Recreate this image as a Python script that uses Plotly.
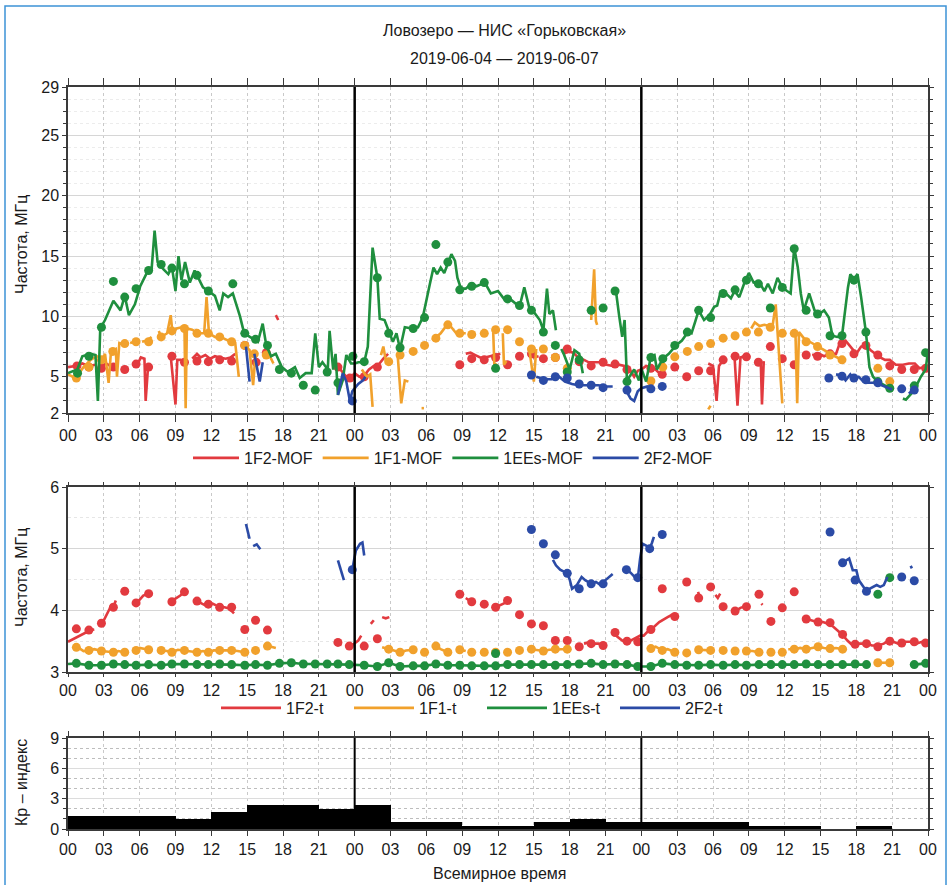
import plotly.graph_objects as go

# ---------------- data (hours from 2019-06-04 00 UT; None = gap) ----------------
TICK_HOURS = list(range(0, 73, 3))
TICK_TEXT = ["00", "03", "06", "09", "12", "15", "18", "21"] * 3 + ["00"]
DAY_BOUNDARIES = [24, 48]

# --- top panel: MOF ---
F2_MOF_LINE_H = [0,0.6,1.2,1.7,2.3,None,2.7,3.2,3.7,4.1,None,5.9,6.1,6.4,6.5,6.7,None,8.6,9.0,9.15,9.5,None,
                 10.4,10.8,11.1,11.5,11.9,12.3,12.7,13.2,13.6,14.0,None,14.6,14.9,None,15.5,15.8,None,16.4,16.8,None,
                 17.4,17.6,None,22.3,22.8,23.3,23.8,24.0,24.4,24.8,25.2,25.6,26.0,26.4,26.8,None,
                 33.3,33.7,34.1,34.5,34.9,35.4,35.8,36.2,None,38.6,39.0,39.4,None,
                 41.5,41.9,42.3,42.7,43.2,43.6,44.1,44.6,45.1,45.6,46.1,46.6,47.1,47.4,47.7,48.0,48.4,48.8,49.2,49.6,None,
                 53.6,54.0,54.3,54.5,54.8,None,55.8,56.05,56.3,56.6,None,58.0,58.1,58.25,None,
                 62.3,62.9,63.3,63.8,64.3,64.6,65.1,65.6,66.0,66.4,66.8,67.2,67.6,68.0,68.4,68.8,69.3,69.9,70.4,70.9,71.3,71.8,72.0]
F2_MOF_LINE_V = [5.8,5.9,6.1,5.9,6.0,None,5.8,6.1,5.8,5.9,None,6.2,6.6,6.5,3.0,5.8,None,6.7,2.7,6.4,6.4,None,
                 6.5,6.9,6.6,6.8,6.5,6.7,6.6,6.5,6.6,6.9,None,7.6,7.3,None,6.3,6.1,None,6.8,7.0,None,
                 10.1,9.7,None,5.9,5.6,5.0,5.1,5.3,5.0,5.1,5.6,5.9,6.0,6.5,6.9,None,
                 6.9,7.0,6.8,6.6,6.6,6.7,6.8,6.9,None,6.8,6.6,6.7,None,
                 6.9,7.1,7.0,6.6,6.4,6.2,6.2,6.2,6.0,5.9,6.0,5.9,5.5,5.0,5.5,5.6,5.9,5.8,5.6,5.2,None,
                 6.1,5.9,3.0,5.9,6.3,None,6.7,2.6,6.6,6.7,None,6.2,2.7,6.3,None,
                 6.8,6.9,6.7,6.9,6.9,7.75,8.0,7.4,6.9,7.5,7.6,7.2,6.9,6.6,6.4,6.4,6.0,6.0,6.1,6.1,5.7,5.8,5.9]
F2_MOF_DOT_H = [0.75,1.75,2.8,3.8,4.75,5.7,6.75,8.7,9.75,10.8,11.75,12.7,13.7,14.8,15.75,16.6,22.6,23.6,
                24.8,25.9,32.8,33.8,34.85,35.8,36.8,37.8,38.8,39.8,40.8,41.8,42.8,43.8,44.8,45.8,46.8,
                48.8,49.75,50.8,51.8,52.8,53.8,54.85,55.85,56.8,57.8,58.8,59.8,60.8,61.8,62.75,63.8,64.8,65.8,66.8,67.8,68.8,69.8,70.85,71.8]
F2_MOF_DOT_V = [5.9,5.8,5.7,5.8,5.6,6.05,5.8,6.7,6.2,6.3,6.25,6.4,6.3,7.6,6.2,7.0,5.8,4.9,
                5.0,5.8,6.0,6.5,6.4,6.6,6.0,6.7,6.9,6.5,6.6,7.3,6.25,5.9,6.2,6.05,5.6,
                5.7,5.2,5.8,5.0,5.5,5.5,6.4,6.7,6.65,6.2,7.5,6.5,6.0,6.8,6.7,6.9,7.75,6.9,7.6,6.8,5.9,5.6,5.6,5.7]

F1_MOF_LINE_H = [0,0.6,1.3,1.9,2.4,2.9,3.1,3.4,3.6,4.0,4.1,4.3,4.6,None,5.2,5.6,None,6.2,6.6,7.0,None,
                 7.6,7.8,8.3,8.6,8.75,9.1,9.5,9.75,9.85,9.95,10.4,10.9,11.4,11.6,11.8,12.3,13.0,13.6,14.0,14.3,None,
                 14.8,15.2,15.5,15.7,None,16.4,16.8,17.2,None,24.6,25.0,25.3,25.5,None,26.2,26.4,26.6,27.0,None,
                 27.6,27.9,28.2,28.5,None,29.6,29.8,None,30.5,31.2,31.8,32.1,32.5,33.3,None,35.6,35.7,35.9,None,
                 36.4,36.5,36.7,None,38.6,39.0,39.2,None,43.8,44.05,44.2,44.3,None,53.6,53.8,None,
                 57.2,57.5,57.9,58.3,58.7,59.0,59.25,59.8,None,60.9,61.05,61.2,61.6,62.1,62.6,63.2,63.7,64.2,64.8]
F1_MOF_LINE_V = [5.2,4.9,5.8,6.4,6.7,6.5,6.9,4.5,7.1,7.3,5.0,7.8,7.7,None,7.8,7.9,None,7.9,8.0,8.3,None,
                 8.8,8.3,8.6,10.1,8.6,9.0,9.1,9.0,2.4,9.0,8.9,8.6,8.6,11.6,8.6,8.3,8.2,7.9,7.8,5.0,None,
                 7.6,7.2,4.3,6.9,None,6.8,6.9,6.1,None,5.6,5.0,5.2,2.5,None,6.8,7.5,6.4,6.3,None,
                 6.8,2.8,4.7,4.6,None,2.4,2.4,None,8.0,8.6,9.4,9.1,8.6,8.6,None,8.7,5.8,6.1,None,
                 8.6,6.0,6.3,None,7.4,4.6,7.3,None,9.7,13.9,9.6,9.3,None,2.3,2.6,None,
                 9.0,9.5,9.2,9.3,9.2,9.3,11.0,2.8,None,8.8,2.8,8.7,8.2,7.9,7.6,7.3,7.0,6.7,6.4]
F1_MOF_DOT_H = [0.7,1.75,2.8,3.75,4.75,5.7,6.75,7.8,8.7,9.75,10.8,11.75,12.7,13.7,14.8,15.6,16.6,
                26.85,27.8,28.9,29.85,30.8,31.8,32.8,33.8,34.85,35.8,36.8,37.8,38.8,39.8,40.8,41.8,
                48.8,49.8,50.8,51.85,52.8,53.8,54.85,55.85,56.8,57.8,58.8,59.8,60.8,61.8,62.75,63.8,64.8,67.8,68.8]
F1_MOF_DOT_V = [4.9,5.8,6.4,7.1,7.75,7.9,7.9,8.3,8.8,9.0,8.6,8.6,8.3,7.9,7.6,6.9,6.8,
                6.25,6.8,7.1,7.6,8.2,9.3,8.6,8.5,8.6,8.9,8.9,7.9,7.3,7.3,6.6,5.7,
                4.65,5.8,6.65,7.1,7.5,7.75,8.2,8.4,8.7,8.7,9.1,8.6,8.6,7.9,7.5,6.8,6.4,5.7,4.6]

EES_MOF_LINE_H = [0,0.78,1.2,1.9,2.3,2.5,2.7,3.1,3.8,4.4,4.75,5.1,5.6,6.05,6.6,7.0,7.25,7.5,8.0,8.4,8.7,9.0,9.25,9.5,9.8,
                  10.2,10.6,10.9,11.3,11.9,12.3,12.7,13.0,13.4,13.8,14.4,14.75,15.4,15.9,16.3,16.6,17.0,17.4,17.9,18.4,
                  19.0,19.4,19.9,20.4,20.7,21.0,21.3,21.75,21.9,22.2,22.4,22.6,23.0,23.3,23.7,24.0,24.3,24.8,25.1,25.5,
                  25.9,26.1,26.5,26.9,27.2,27.5,27.8,28.2,28.8,29.3,29.7,30.3,30.6,30.9,31.2,31.5,31.8,32.1,32.4,32.6,
                  32.9,33.3,33.75,34.2,34.9,35.4,36.0,36.5,37.0,37.5,37.8,38.2,38.6,38.9,39.5,39.8,40.1,40.3,40.6,40.85,None,
                  41.3,41.5,42.0,42.4,42.8,43.1,None,45.8,45.9,46.15,46.4,46.6,46.8,47.0,47.4,47.8,48.0,48.4,48.8,49.1,
                  49.3,49.8,50.3,50.9,51.4,51.9,52.2,52.55,52.8,53.25,53.7,54.1,54.35,54.6,55.1,55.5,55.8,56.2,56.6,57.0,
                  57.4,57.85,58.3,58.6,59.0,59.4,59.8,60.2,60.5,60.8,61.1,61.35,61.6,62.05,62.5,62.9,63.3,63.7,64.0,64.4,
                  64.8,65.3,65.5,65.8,66.1,66.4,66.8,67.1,67.4,67.8,68.3,68.8,None,69.9,70.15,70.6,71.0,71.4,71.8,72.0]
EES_MOF_LINE_V = [5.3,5.6,6.7,6.9,6.8,3.0,9.0,9.7,11.3,10.5,11.7,10.1,11.0,12.5,13.6,13.9,17.1,14.5,13.9,13.5,14.1,12.1,15.0,13.0,14.5,
                  12.8,13.8,13.2,12.4,12.0,11.7,10.5,11.9,11.6,11.9,10.0,8.6,8.2,7.9,9.4,7.6,6.7,6.9,5.8,5.4,
                  5.8,4.9,5.3,5.3,8.6,5.8,6.2,5.6,8.8,5.6,6.9,3.5,4.7,6.8,6.1,6.1,6.2,6.2,7.5,15.7,
                  13.2,9.8,9.7,8.6,7.9,8.6,7.3,9.1,9.0,9.1,9.9,12.7,14.05,13.5,14.05,13.6,14.3,15.15,14.6,13.2,
                  12.3,12.3,12.7,12.5,12.8,11.9,12.1,11.45,11.45,11.0,10.8,12.4,10.8,10.5,9.7,8.85,12.3,10.2,10.5,8.85,None,
                  7.3,6.9,5.6,7.2,6.9,5.3,None,12.1,11.9,10.0,8.3,9.7,4.6,5.0,5.6,4.7,5.7,4.6,6.7,6.8,
                  5.6,6.5,6.9,7.6,8.0,8.7,8.6,9.7,10.5,9.7,10.1,10.8,10.9,11.9,11.9,11.5,12.1,11.6,12.7,13.6,
                  12.8,12.9,12.1,12.7,11.9,13.2,12.4,12.1,11.9,15.7,14.05,11.9,10.5,11.9,10.5,10.2,10.5,9.9,8.4,8.3,
                  8.4,12.4,13.5,13.1,13.5,11.6,8.7,5.8,5.0,4.6,4.3,4.05,None,3.2,3.1,3.6,4.2,5.0,5.6,7.1]
EES_MOF_DOT_H = [0.8,1.75,2.8,3.8,4.75,5.7,6.75,7.8,8.7,9.75,10.8,11.75,13.8,14.8,15.7,16.7,17.7,18.7,19.7,20.7,21.7,22.6,23.85,
                 24.8,25.9,26.85,27.8,28.9,29.85,30.8,31.8,32.8,33.8,34.85,35.8,36.8,37.8,38.8,39.8,40.8,41.8,42.8,43.8,44.8,45.8,46.8,
                 48.8,49.8,50.8,51.85,52.8,53.8,54.85,55.85,56.8,57.8,58.8,59.8,60.8,61.8,62.75,63.8,64.8,65.8,66.8,67.8,68.8,70.85,71.8]
EES_MOF_DOT_V = [5.3,6.7,9.1,12.9,11.6,12.3,13.8,14.3,14.0,12.7,13.4,12.1,12.7,8.6,8.1,7.6,5.6,5.3,4.3,3.9,5.4,4.5,6.7,
                 6.25,13.2,8.6,7.4,9.0,9.9,15.95,14.5,12.2,12.5,12.8,5.7,11.45,10.9,10.5,8.7,7.6,5.4,6.4,10.5,10.7,12.1,4.6,
                 6.6,6.5,7.6,8.7,10.5,9.9,11.9,12.2,13.0,12.7,10.7,12.4,15.6,10.5,10.2,8.4,8.4,13.0,8.7,4.6,4.05,4.25,7.0]

F2B_MOF_LINE_H = [14.9,15.2,None,15.6,16.05,16.3,None,22.6,23.0,23.3,23.6,23.8,24.0,24.3,24.7,24.9,None,
                  39.2,39.9,40.5,41.0,41.6,42.2,42.7,43.3,43.8,44.4,45.0,45.6,None,46.7,47.1,47.4,47.7,48.0,48.5,48.9,None,
                  64.3,64.8,65.1,65.5,65.8,66.2,66.6,67.0,67.6,68.1,68.7,69.0,None,70.4,71.0]
F2B_MOF_LINE_V = [7.5,4.6,None,6.9,4.6,6.2,None,3.5,5.3,4.6,3.0,3.8,4.05,4.4,4.7,5.0,None,
                  5.0,4.8,4.8,5.1,4.6,4.4,4.3,4.3,4.3,4.3,4.2,4.2,None,3.9,3.2,3.0,3.8,4.05,4.2,4.0,None,
                  5.2,5.1,4.7,5.2,4.8,5.0,4.6,4.5,4.5,4.3,4.05,3.95,None,3.6,4.2]
F2B_MOF_DOT_H = [23.8,38.8,39.8,40.8,41.8,42.8,43.8,44.8,46.8,48.8,49.75,63.7,64.8,65.8,66.8,67.8,69.8,70.85]
F2B_MOF_DOT_V = [3.0,5.15,4.7,5.0,4.9,4.4,4.3,4.1,3.9,4.0,4.2,4.9,5.05,4.9,4.75,4.5,4.0,3.9]

# --- middle panel: minimal frequencies ---
F2_T_LINE_H = [0,0.6,1.3,1.9,2.2,None,2.9,3.3,3.55,3.8,4.0,None,4.75,4.95,None,5.7,5.9,6.3,6.75,None,8.7,9.0,9.4,9.75,None,
               10.8,11.2,11.5,11.75,12.1,12.4,None,12.7,13.1,13.5,13.9,None,16.5,16.7,None,22.4,22.9,None,
               23.55,23.9,24.3,24.55,None,25.35,25.6,None,26.3,26.6,26.9,None,33.3,33.6,33.9,None,35.8,36.2,36.6,None,
               43.2,43.6,44.0,44.4,44.8,None,45.6,46.0,46.4,46.8,47.1,47.5,47.9,48.2,48.65,49.05,49.5,50.2,50.5,50.9,None,
               52.75,52.85,None,54.2,54.4,54.6,None,55.9,56.3,56.6,None,58.05,58.15,None,
               61.5,62.1,62.7,63.2,63.7,64.1,64.4,64.85,65.25,65.7,66.1,66.5,66.9,67.3,67.8,68.3,68.7,69.1,69.5,69.9,70.5,71.0,71.5,72.0]
F2_T_LINE_V = [3.49,3.55,3.62,3.68,3.69,None,3.80,3.95,4.05,4.05,4.16,None,4.31,4.30,None,4.12,4.15,4.24,4.27,None,4.14,4.19,4.24,4.30,None,
               4.15,4.11,4.08,4.10,4.11,4.08,None,4.05,4.05,4.03,3.95,None,3.72,3.62,None,3.46,3.44,None,
               3.42,3.45,3.51,3.59,None,3.78,3.84,None,3.89,3.87,3.89,None,4.20,4.16,4.18,None,4.05,4.08,4.12,None,
               3.46,3.48,3.46,3.46,3.43,None,3.66,3.57,3.51,3.49,3.51,3.55,3.59,3.59,3.68,3.73,3.81,3.89,3.92,3.89,None,
               4.30,4.24,None,4.25,4.20,4.27,None,3.99,4.04,4.06,None,4.11,4.09,None,
               3.88,3.84,3.81,3.81,3.78,3.73,3.68,3.60,3.51,3.43,3.46,3.46,3.46,3.43,3.43,3.46,3.51,3.49,3.46,3.49,3.49,3.46,3.49,3.46]
F2_T_DOT_H = [0.7,1.75,2.8,3.8,4.75,5.7,6.75,8.7,9.75,10.8,11.75,12.7,13.7,14.8,15.7,16.7,22.6,23.55,
              24.8,25.9,32.8,33.8,34.85,35.8,36.8,37.8,38.8,39.8,40.8,41.8,42.8,43.8,44.8,45.8,46.8,47.7,
              48.8,49.75,50.8,51.8,52.8,53.8,54.85,55.85,56.8,57.85,58.85,59.8,60.8,61.8,62.8,63.8,64.85,65.9,66.85,67.8,68.8,69.8,70.85,71.8]
F2_T_DOT_V = [3.70,3.68,3.79,4.05,4.31,4.12,4.27,4.14,4.30,4.15,4.10,4.05,4.05,3.69,3.84,3.68,3.48,3.42,
              3.42,3.54,4.26,4.14,4.10,4.05,4.16,3.93,3.78,3.75,3.51,3.51,3.41,3.46,3.43,3.64,3.50,3.49,
              3.69,4.35,3.90,4.46,4.20,4.38,4.06,3.99,4.06,4.26,3.82,4.04,4.30,3.86,3.81,3.80,3.61,3.45,3.46,3.41,3.50,3.47,3.49,3.47]

F1_T_LINE_H = [0.5,0.7,1.0,1.3,1.75,2.2,2.8,3.2,3.8,4.2,4.75,None,5.4,5.7,6.0,6.4,6.75,None,
               7.6,7.8,8.3,8.7,9.2,9.75,10.3,10.8,11.3,11.75,12.2,12.7,13.2,13.7,14.2,14.8,None,16.4,16.7,17.0,17.4,None,
               26.3,26.85,27.3,27.8,28.3,28.9,None,30.5,30.8,31.2,31.8,None,32.6,32.8,33.3,None,
               38.8,39.3,39.8,40.3,40.8,41.3,41.8,None,48.8,49.2,49.75,50.2,50.8,None,52.8,53.3,53.8,None,
               56.8,57.3,57.85,None,60.3,60.8,61.3,61.8,62.3,62.8,63.3,63.8,64.3,64.85,None,67.8,68.3,68.8]
F1_T_LINE_V = [3.43,3.40,3.38,3.34,3.35,3.37,3.34,3.33,3.32,3.34,3.32,None,3.34,3.35,3.39,3.37,3.36,None,
               3.36,3.35,3.34,3.32,3.36,3.35,3.33,3.32,3.34,3.32,3.35,3.35,3.36,3.35,3.34,3.32,None,3.40,3.42,3.41,3.39,None,
               3.40,3.37,3.34,3.32,3.35,3.36,None,3.42,3.42,3.37,3.32,None,3.37,3.36,3.34,None,
               3.37,3.35,3.34,3.36,3.37,3.37,3.37,None,3.38,3.41,3.35,3.37,3.32,None,3.36,3.35,3.35,None,
               3.34,3.34,3.32,None,3.37,3.37,3.39,3.37,3.39,3.41,3.39,3.38,3.39,3.37,None,3.15,3.15,3.15]
F1_T_DOT_H = [0.7,1.75,2.8,3.8,4.75,5.7,6.75,7.8,8.7,9.75,10.8,11.75,12.7,13.7,14.8,15.7,16.7,
              26.85,27.8,28.9,29.85,30.8,31.8,32.8,33.8,34.85,35.8,36.8,37.8,38.8,39.8,40.8,41.8,
              48.8,49.75,50.8,51.8,52.8,53.8,54.85,55.85,56.8,57.85,58.85,59.8,60.8,61.8,62.8,63.8,64.85,67.8,68.8]
F1_T_DOT_V = [3.40,3.35,3.34,3.32,3.32,3.35,3.36,3.35,3.32,3.35,3.32,3.32,3.35,3.35,3.32,3.35,3.42,
              3.37,3.32,3.36,3.32,3.42,3.32,3.36,3.32,3.32,3.32,3.32,3.35,3.37,3.34,3.37,3.37,
              3.38,3.35,3.32,3.31,3.36,3.35,3.35,3.34,3.34,3.32,3.32,3.32,3.37,3.37,3.41,3.38,3.37,3.15,3.15]

EES_T_LINE_H = [0,0.7,1.75,2.8,3.8,4.75,5.7,6.75,7.8,8.7,9.75,10.8,11.75,12.7,13.7,14.8,15.7,16.7,17.7,18.7,19.7,20.7,21.7,22.6,23.55,
                24.8,25.9,26.85,27.8,28.9,29.85,30.8,31.8,32.8,33.8,34.85,35.8,36.8,37.8,38.8,39.8,40.8,41.8,42.8,43.8,44.8,45.8,46.8,47.7,
                48.8,49.75,50.8,51.8,52.8,53.8,54.85,55.85,56.8,57.85,58.85,59.8,60.8,61.8,62.8,63.8,64.85,65.9,66.85,None,70.5,70.85,71.8,72.0]
EES_T_LINE_V = [3.13,3.14,3.11,3.11,3.13,3.12,3.11,3.12,3.11,3.13,3.13,3.12,3.12,3.13,3.12,3.11,3.12,3.11,3.14,3.15,3.13,3.13,3.13,3.13,3.12,
                3.11,3.09,3.15,3.09,3.10,3.10,3.13,3.11,3.11,3.10,3.10,3.10,3.12,3.12,3.12,3.12,3.11,3.12,3.13,3.14,3.12,3.13,3.12,3.09,
                3.09,3.14,3.12,3.11,3.11,3.12,3.11,3.12,3.11,3.12,3.12,3.12,3.12,3.13,3.12,3.12,3.12,3.13,3.12,None,3.13,3.12,3.14,3.14]
EES_T_DOT_H = [0.7,1.75,2.8,3.8,4.75,5.7,6.75,7.8,8.7,9.75,10.8,11.75,12.7,13.7,14.8,15.7,16.7,17.7,18.7,19.7,20.7,21.7,22.6,23.55,
               24.8,25.9,26.85,27.8,28.9,29.85,30.8,31.8,32.8,33.8,34.85,35.8,35.8,36.8,37.8,38.8,39.8,40.8,41.8,42.8,43.8,44.8,45.8,46.8,47.7,
               48.8,49.75,50.8,51.8,52.8,53.8,54.85,55.85,56.8,57.85,58.85,59.8,60.8,61.8,62.8,63.8,64.85,65.9,66.85,67.8,68.8,70.85,71.8]
EES_T_DOT_V = [3.14,3.11,3.11,3.13,3.12,3.11,3.12,3.11,3.13,3.13,3.12,3.12,3.13,3.12,3.11,3.12,3.11,3.14,3.15,3.13,3.13,3.13,3.13,3.12,
               3.11,3.09,3.15,3.09,3.10,3.10,3.13,3.11,3.11,3.10,3.10,3.10,3.30,3.12,3.12,3.12,3.12,3.11,3.12,3.13,3.14,3.12,3.13,3.12,3.09,
               3.09,3.14,3.12,3.11,3.11,3.12,3.11,3.12,3.11,3.12,3.12,3.12,3.12,3.13,3.12,3.12,3.12,3.13,3.12,4.26,4.53,3.12,3.14]

F2B_T_LINE_H = [14.9,15.2,None,15.5,15.8,16.1,None,22.6,23.1,None,23.8,24.1,24.45,24.65,24.8,None,
                40.6,40.85,41.2,41.8,42.0,42.2,42.6,43.0,43.3,43.8,44.2,44.6,45.0,45.6,None,
                46.75,47.1,47.5,47.7,47.9,48.1,48.4,48.7,48.9,49.05,None,
                64.85,65.1,65.4,65.7,66.0,66.2,66.5,66.85,67.1,67.4,67.7,68.0,68.3,68.6,None,70.55,70.65]
F2B_T_LINE_V = [5.40,5.16,None,5.04,5.07,4.99,None,4.81,4.49,None,4.66,4.97,5.08,5.10,4.89,None,
                4.82,4.73,4.66,4.60,4.50,4.35,4.41,4.54,4.49,4.43,4.46,4.41,4.49,4.59,None,
                4.66,4.61,4.53,4.51,4.84,5.08,5.05,5.00,5.10,5.19,None,
                4.77,4.80,4.84,4.65,4.65,4.49,4.40,4.31,4.35,4.38,4.41,4.38,4.41,4.54,None,4.72,4.68]
F2B_T_DOT_H = [23.8,38.8,39.8,40.8,41.8,42.8,43.8,44.8,46.75,47.7,48.7,49.75,63.8,64.85,65.9,66.85,69.8,70.85]
F2B_T_DOT_V = [4.66,5.31,5.08,4.90,4.60,4.35,4.43,4.43,4.66,4.53,5.00,5.23,5.27,4.77,4.49,4.31,4.54,4.48]

# --- bottom panel: Kp (3-hour intervals) ---
KP_START = list(range(0, 72, 3))
KP_VALUE = [1.33, 1.33, 1.33, 1.0, 1.67, 2.33, 2.33, 2.0,
            2.33, 0.67, 0.67, 0.33, 0.33, 0.67, 1.0, 0.67,
            0.67, 0.67, 0.67, 0.33, 0.33, 0.0, 0.33, 0.0]

for a, b in [(F2_MOF_LINE_H, F2_MOF_LINE_V), (F2_MOF_DOT_H, F2_MOF_DOT_V), (F1_MOF_LINE_H, F1_MOF_LINE_V),
             (F1_MOF_DOT_H, F1_MOF_DOT_V), (EES_MOF_LINE_H, EES_MOF_LINE_V), (EES_MOF_DOT_H, EES_MOF_DOT_V),
             (F2B_MOF_LINE_H, F2B_MOF_LINE_V), (F2B_MOF_DOT_H, F2B_MOF_DOT_V), (F2_T_LINE_H, F2_T_LINE_V),
             (F2_T_DOT_H, F2_T_DOT_V), (F1_T_LINE_H, F1_T_LINE_V), (F1_T_DOT_H, F1_T_DOT_V),
             (EES_T_LINE_H, EES_T_LINE_V), (EES_T_DOT_H, EES_T_DOT_V), (F2B_T_LINE_H, F2B_T_LINE_V),
             (F2B_T_DOT_H, F2B_T_DOT_V), (KP_START, KP_VALUE)]:
    assert len(a) == len(b), (len(a), len(b))

# ---------------- styling ----------------
RED, ORANGE, GREEN, BLUE = "#e23a3f", "#f1a12c", "#1f8f3e", "#2b4ba6"
FONT = "Liberation Sans, Arial, sans-serif"
W, H = 950, 885
L, R = 68, 22
PW = W - L - R


def py(px):
    return 1 - px / H


def px_x(px):
    return (px - L) / PW


fig = go.Figure()

series_top = [("1F2-MOF", RED, F2_MOF_LINE_H, F2_MOF_LINE_V, F2_MOF_DOT_H, F2_MOF_DOT_V),
              ("1F1-MOF", ORANGE, F1_MOF_LINE_H, F1_MOF_LINE_V, F1_MOF_DOT_H, F1_MOF_DOT_V),
              ("1EEs-MOF", GREEN, EES_MOF_LINE_H, EES_MOF_LINE_V, EES_MOF_DOT_H, EES_MOF_DOT_V),
              ("2F2-MOF", BLUE, F2B_MOF_LINE_H, F2B_MOF_LINE_V, F2B_MOF_DOT_H, F2B_MOF_DOT_V)]
series_mid = [("1F2-t", RED, F2_T_LINE_H, F2_T_LINE_V, F2_T_DOT_H, F2_T_DOT_V),
              ("1F1-t", ORANGE, F1_T_LINE_H, F1_T_LINE_V, F1_T_DOT_H, F1_T_DOT_V),
              ("1EEs-t", GREEN, EES_T_LINE_H, EES_T_LINE_V, EES_T_DOT_H, EES_T_DOT_V),
              ("2F2-t", BLUE, F2B_T_LINE_H, F2B_T_LINE_V, F2B_T_DOT_H, F2B_T_DOT_V)]

for series, xa, ya, lg in [(series_top, "x", "y", "legend"), (series_mid, "x2", "y2", "legend2")]:
    for name, col, lh, lv, dh, dv in series:
        fig.add_trace(go.Scatter(x=lh, y=lv, mode="lines", name=name, legend=lg,
                                 line=dict(color=col, width=2.6), connectgaps=False,
                                 xaxis=xa, yaxis=ya, hoverinfo="skip"))
        fig.add_trace(go.Scatter(x=dh, y=dv, mode="markers", showlegend=False,
                                 marker=dict(color=col, size=9, line=dict(width=0)),
                                 xaxis=xa, yaxis=ya, hoverinfo="skip"))

fig.add_trace(go.Bar(x=KP_START, y=KP_VALUE, width=3, offset=0, marker=dict(color="black", line=dict(width=0)),
                     showlegend=False, xaxis="x3", yaxis="y3", hoverinfo="skip"))

xcommon = dict(range=[0, 72], tickmode="array", tickvals=TICK_HOURS, ticktext=TICK_TEXT,
               showgrid=True, gridcolor="#c9c9c9", griddash="dot", gridwidth=1,
               showline=True, linecolor="#3a3a3a", linewidth=1.5, mirror="ticks",
               ticks="outside", ticklen=5, tickcolor="#3a3a3a", tickwidth=1,
               tickfont=dict(family=FONT, size=16, color="#1a1a1a"), zeroline=False, fixedrange=True)
ycommon = dict(showline=True, linecolor="#3a3a3a", linewidth=1.5, mirror="ticks",
               ticks="outside", ticklen=4, tickcolor="#3a3a3a", tickwidth=1,
               tickfont=dict(family=FONT, size=16, color="#1a1a1a"), zeroline=False, fixedrange=True,
               showgrid=True, gridcolor="#d6d6d6", gridwidth=1)

fig.update_layout(
    width=W, height=H, margin=dict(l=L, r=R, t=0, b=0, pad=0, autoexpand=False),
    paper_bgcolor="white", plot_bgcolor="white", bargap=0,
    xaxis=dict(xcommon, domain=[0, 1], anchor="y", ticklen=7),
    xaxis2=dict(xcommon, domain=[0, 1], anchor="y2", ticklen=3),
    xaxis3=dict(xcommon, domain=[0, 1], anchor="y3"),
    yaxis=dict(ycommon, domain=[py(413), py(87)], anchor="x", range=[2, 29],
               tickmode="array", tickvals=[2, 5, 10, 15, 20, 25, 29],
               minor=dict(dtick=1, ticks="outside", ticklen=3, tickcolor="#3a3a3a",
                          showgrid=True, gridcolor="#ececec", griddash="dot")),
    yaxis2=dict(ycommon, domain=[py(672), py(487)], anchor="x2", range=[3, 6],
                tickmode="array", tickvals=[3, 4, 5, 6],
                minor=dict(dtick=0.5, ticks="", showgrid=True, gridcolor="#e6e6e6", griddash="dot")),
    yaxis3=dict(ycommon, domain=[py(829), py(738)], anchor="x3", range=[0, 9],
                tickmode="array", tickvals=[0, 3, 6, 9], gridcolor="#dcdcdc",
                minor=dict(dtick=1, ticks="outside", ticklen=3, tickcolor="#3a3a3a",
                           showgrid=True, gridcolor="#bdbdbd", griddash="dot")),
    legend=dict(orientation="h", x=px_x(188), y=py(458), xanchor="left", yanchor="middle",
                font=dict(family=FONT, size=16, color="#1a1a1a"), itemwidth=46,
                bgcolor="rgba(0,0,0,0)",
                tracegroupgap=0, itemclick=False, itemdoubleclick=False),
    legend2=dict(orientation="h", x=px_x(216), y=py(708), xanchor="left", yanchor="middle",
                 font=dict(family=FONT, size=16, color="#1a1a1a"), itemwidth=60,
                 entrywidth=58, entrywidthmode="pixels", bgcolor="rgba(0,0,0,0)",
                 tracegroupgap=0, itemclick=False, itemdoubleclick=False),
    showlegend=True,
)

# day boundaries
shapes = []
for d in DAY_BOUNDARIES:
    for yref, wdt in [("y domain", 2.5), ("y2 domain", 2.5), ("y3 domain", 2)]:
        shapes.append(dict(type="line", xref="x", yref=yref, x0=d, x1=d, y0=0, y1=1,
                           line=dict(color="black", width=wdt), layer="above"))
# light-blue frame around the whole figure
shapes.append(dict(type="rect", xref="paper", yref="paper", x0=px_x(5), x1=px_x(946),
                   y0=py(895), y1=py(6), line=dict(color="#3d93d6", width=1.5), layer="below"))
fig.update_layout(shapes=shapes)

ann = [
    dict(text="Ловозеро — НИС «Горьковская»", x=px_x(504), y=py(30)),
    dict(text="2019-06-04 — 2019-06-07", x=px_x(504), y=py(58)),
    dict(text="Частота, МГц", x=px_x(21), y=py(245), textangle=-90),
    dict(text="Частота, МГц", x=px_x(21), y=py(578), textangle=-90),
    dict(text="Кр – индекс", x=px_x(21), y=py(783), textangle=-90),
    dict(text="Всемирное время", x=px_x(499), y=py(873)),
]
for a in ann:
    a.update(xref="paper", yref="paper", showarrow=False, xanchor="center", yanchor="middle",
             font=dict(family=FONT, size=16, color="#1a1a1a"))
fig.update_layout(annotations=ann)

fig.write_html("out.html", config={"displayModeBar": False},
               post_script="document.body.style.margin='0';document.body.style.overflow='hidden';")
